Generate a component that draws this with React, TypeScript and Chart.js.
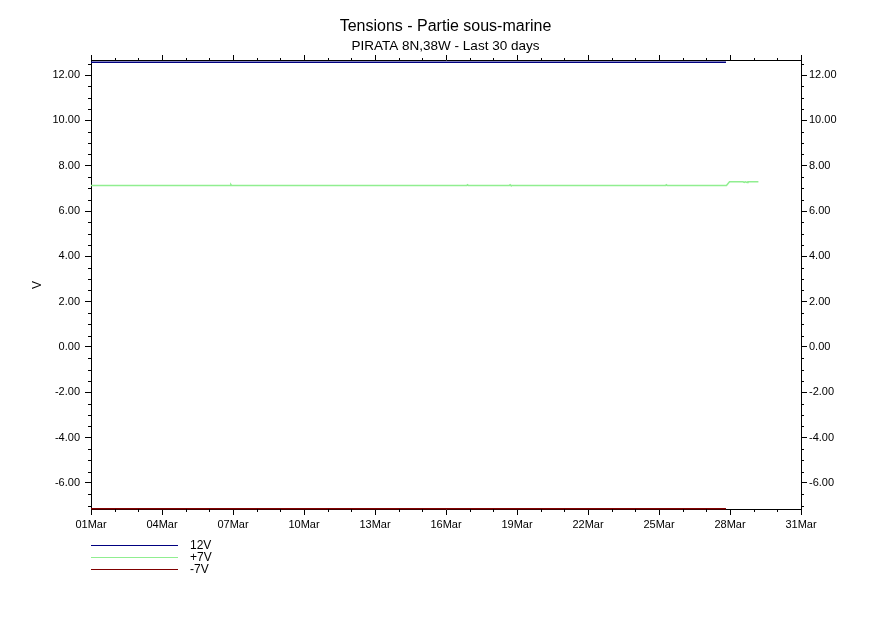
import React, { useEffect, useRef } from "react";
import { Chart, registerables } from "chart.js";

Chart.register(...registerables);

// ---- data (day of March, volts) ----
const days12V = [1, 5, 10, 15, 20, 25, 27.83];
const values12V = [12.57, 12.57, 12.57, 12.57, 12.57, 12.57, 12.57];

const daysPlus7V = [1, 6.88, 6.91, 6.94, 16.88, 16.91, 16.94, 18.68, 18.71, 18.74, 25.28, 25.31, 25.34, 27.85, 27.98, 28.55, 28.6, 28.65, 28.72, 28.76, 29.2];
const valuesPlus7V = [7.13, 7.13, 7.17, 7.13, 7.13, 7.16, 7.13, 7.13, 7.16, 7.13, 7.13, 7.16, 7.13, 7.13, 7.29, 7.29, 7.26, 7.29, 7.26, 7.29, 7.29];

const daysMinus7V = [1, 5, 10, 15, 20, 25, 27.83];
const valuesMinus7V = [-7.14, -7.14, -7.14, -7.14, -7.14, -7.14, -7.14];

const seriesLabels = ["12V", "+7V", "-7V"];
const seriesColors = ["#000080", "#90ee90", "#800000"];

const xMin = 1;
const xMax = 31;
const xStep = 3;
const monthLabel = "Mar";
const yMin = -7.15;
const yMax = 12.62;
const yStep = 2;
const yMinorStep = 0.5;

const titleText = "Tensions - Partie sous-marine";
const subtitleText = "PIRATA 8N,38W - Last 30 days";
const yAxisLabel = "V";

const FONT = "'Liberation Sans', Arial, sans-serif";

const toPoints = (xs: number[], ys: number[]) => xs.map((x, i) => ({ x, y: ys[i] }));

const minorTicksPlugin = {
  id: "minorTicks",
  afterDraw(chart: any) {
    const ctx = chart.ctx;
    const area = chart.chartArea;
    const xs = chart.scales.x;
    const ys = chart.scales.y;
    ctx.save();
    ctx.strokeStyle = "#000";
    ctx.lineWidth = 1;
    ctx.beginPath();
    for (let d = Math.ceil(xMin); d <= xMax; d++) {
      if ((d - xMin) % xStep === 0) continue;
      const px = Math.round(xs.getPixelForValue(d)) + 0.5;
      ctx.moveTo(px, area.bottom);
      ctx.lineTo(px, area.bottom + 3);
      ctx.moveTo(px, area.top);
      ctx.lineTo(px, area.top - 3);
    }
    for (let v = Math.ceil(yMin / yMinorStep) * yMinorStep; v <= yMax; v += yMinorStep) {
      if (Math.abs(v % yStep) < 1e-6) continue;
      const py = Math.round(ys.getPixelForValue(v)) + 0.5;
      ctx.moveTo(area.left, py);
      ctx.lineTo(area.left - 3, py);
      ctx.moveTo(area.right, py);
      ctx.lineTo(area.right + 3, py);
    }
    ctx.stroke();

    // y axis label
    ctx.fillStyle = "#000";
    ctx.font = `12px ${FONT}`;
    ctx.textAlign = "center";
    ctx.textBaseline = "middle";
    ctx.save();
    ctx.translate(38, (area.top + area.bottom) / 2);
    ctx.rotate(-Math.PI / 2);
    ctx.fillText(yAxisLabel, 0, 0);
    ctx.restore();

    // legend
    const lx0 = area.left;
    const lx1 = area.left + 87;
    chart.data.datasets.forEach((ds: any, i: number) => {
      const y = Math.round(area.bottom + 36 + i * 12) + 0.5;
      ctx.strokeStyle = ds.borderColor;
      ctx.lineWidth = 1;
      ctx.beginPath();
      ctx.moveTo(lx0, y);
      ctx.lineTo(lx1, y);
      ctx.stroke();
      ctx.fillStyle = "#000";
      ctx.textAlign = "left";
      ctx.fillText(ds.label, lx1 + 12, y);
    });
    ctx.restore();
  },
};

export default function App() {
  const ref = useRef<HTMLCanvasElement | null>(null);

  useEffect(() => {
    if (!ref.current) return;
    const dayLabel = (v: number) => {
      const d = Math.round(v);
      return (d < 10 ? "0" + d : String(d)) + monthLabel;
    };
    const tickFont = { family: FONT, size: 11 };
    const commonGrid = {
      drawOnChartArea: false,
      drawTicks: true,
      tickLength: 6,
      color: "#000",
      lineWidth: 1,
    };
    const border = { display: true, color: "#000", width: 1 };

    const chart = new Chart(ref.current, {
      type: "line",
      data: {
        datasets: [
          {
            label: seriesLabels[0],
            data: toPoints(days12V, values12V),
            borderColor: seriesColors[0],
            backgroundColor: seriesColors[0],
            borderWidth: 1.5,
          },
          {
            label: seriesLabels[1],
            data: toPoints(daysPlus7V, valuesPlus7V),
            borderColor: seriesColors[1],
            backgroundColor: seriesColors[1],
            borderWidth: 1.5,
          },
          {
            label: seriesLabels[2],
            data: toPoints(daysMinus7V, valuesMinus7V),
            borderColor: seriesColors[2],
            backgroundColor: seriesColors[2],
            borderWidth: 1.5,
          },
        ],
      },
      options: {
        responsive: false,
        animation: false,
        clip: false as any,
        elements: {
          point: { radius: 0, hoverRadius: 0 },
          line: { borderWidth: 1, tension: 0 },
        },
        layout: { padding: { top: 0, left: 0, right: 0, bottom: 91 } },
        plugins: {
          legend: { display: false },
          tooltip: { enabled: false },
          title: {
            display: true,
            text: titleText,
            color: "#000",
            font: { family: FONT, size: 16, weight: "normal" as any, lineHeight: 1.2 },
            padding: { top: 17.4, bottom: 0 },
          },
          subtitle: {
            display: true,
            text: subtitleText,
            color: "#000",
            font: { family: FONT, size: 13.5, weight: "normal" as any, lineHeight: 1.2 },
            padding: { top: 1.3, bottom: 0.9 },
          },
        },
        scales: {
          x: {
            type: "linear",
            position: "bottom",
            min: xMin,
            max: xMax,
            grid: commonGrid,
            border,
            ticks: {
              stepSize: xStep,
              color: "#000",
              font: tickFont,
              padding: 3,
              maxRotation: 0,
              autoSkip: false,
              callback: (v: any) => dayLabel(Number(v)),
            },
            afterFit: (s: any) => {
              s.height = 30;
            },
          },
          x2: {
            type: "linear",
            position: "top",
            min: xMin,
            max: xMax,
            grid: commonGrid,
            border,
            ticks: { stepSize: xStep, display: false },
            afterFit: (s: any) => {
              s.height = 6;
            },
          },
          y: {
            type: "linear",
            position: "left",
            min: yMin,
            max: yMax,
            grid: commonGrid,
            border,
            ticks: {
              stepSize: yStep,
              includeBounds: false,
              color: "#000",
              font: tickFont,
              padding: 5,
              callback: (v: any) => Number(v).toFixed(2),
            },
            afterFit: (s: any) => {
              s.width = 91;
            },
          },
          y2: {
            type: "linear",
            position: "right",
            min: yMin,
            max: yMax,
            grid: commonGrid,
            border,
            ticks: {
              stepSize: yStep,
              includeBounds: false,
              color: "#000",
              font: tickFont,
              padding: 2,
              callback: (v: any) => Number(v).toFixed(2),
            },
            afterFit: (s: any) => {
              s.width = 90;
            },
          },
        },
      },
      plugins: [minorTicksPlugin],
    });
    return () => chart.destroy();
  }, []);

  return (
    <div style={{ position: "absolute", left: 0, top: 0, width: 891, height: 630, background: "#fff" }}>
      <canvas ref={ref} width={891} height={630} />
    </div>
  );
}
